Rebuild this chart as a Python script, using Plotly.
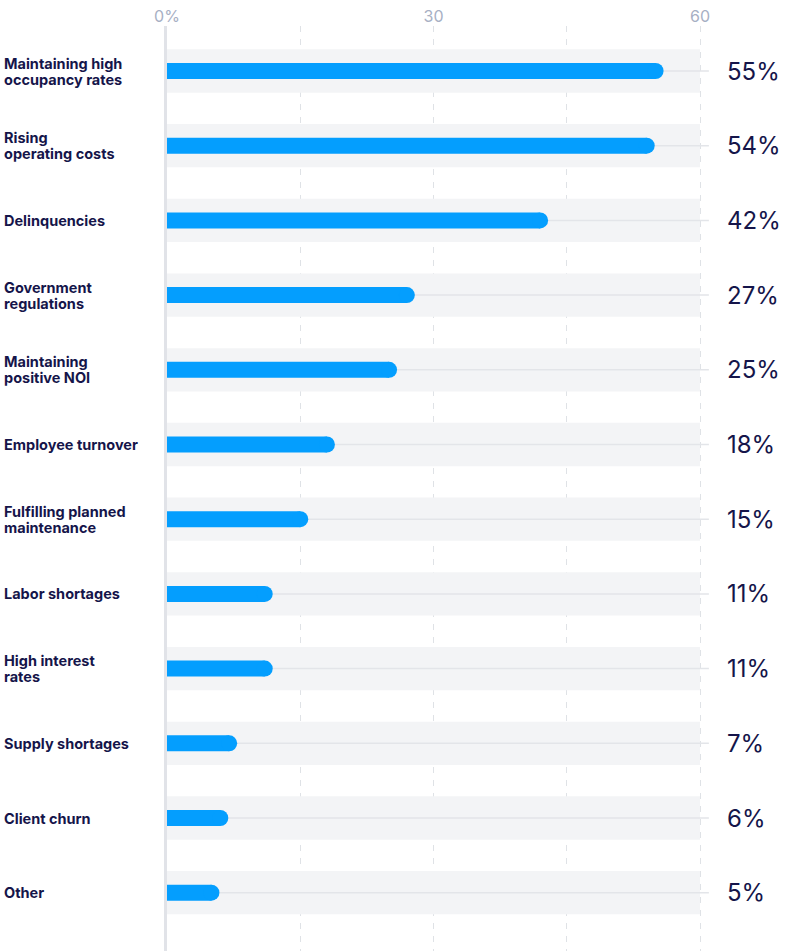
import plotly.graph_objects as go

# Survey results: share of respondents naming each challenge
categories = [
    ["Maintaining high", "occupancy rates"],
    ["Rising", "operating costs"],
    ["Delinquencies"],
    ["Government", "regulations"],
    ["Maintaining", "positive NOI"],
    ["Employee turnover"],
    ["Fulfilling planned", "maintenance"],
    ["Labor shortages"],
    ["High interest", "rates"],
    ["Supply shortages"],
    ["Client churn"],
    ["Other"],
]
values = [55, 54, 42, 27, 25, 18, 15, 11, 11, 7, 6, 5]
tick_vals = [0, 15, 30, 45, 60]
tick_text = ["0%", "", "30", "", "60"]

W, H = 785, 951
BAR_BLUE = "#049efe"
NAVY = "#15154a"
BAND = "#f3f4f6"
RULE = "#e3e5e9"

x_max_band = 60          # grey bands run to the last gridline
x_max_axis = 61          # a little extra room for the leader lines
x0_px, x60_px = 167, 700
px_per_unit = (x60_px - x0_px) / 60
x_end_px = x0_px + x_max_axis * px_per_unit

rows = list(range(len(categories)))
row0_px, row_step = 71, 74.7
top_margin = 26
y_top = (top_margin - row0_px) / row_step
y_bottom = (H - row0_px) / row_step
line_pitch = 16 / row_step   # label line spacing in row units

fig = go.Figure()

# Value bars (flat start at zero)
fig.add_trace(go.Bar(
    x=values, y=rows, orientation="h",
    width=16 / row_step,
    marker=dict(color=BAR_BLUE, line=dict(width=0)),
    hoverinfo="skip",
))
# Rounded cap at the end of each bar
fig.add_trace(go.Scatter(
    x=values, y=rows, mode="markers",
    marker=dict(size=16, color=BAR_BLUE, line=dict(width=0)),
    hoverinfo="skip",
))

shapes = []
for r in rows:
    shapes.append(dict(
        type="rect", xref="x", yref="y", layer="between",
        x0=0, x1=x_max_band, y0=r - 0.29, y1=r + 0.29,
        fillcolor=BAND, line=dict(width=0),
    ))
for r in rows:
    shapes.append(dict(
        type="line", xref="x", yref="y", layer="between",
        x0=0, x1=x_max_axis, y0=r, y1=r,
        line=dict(color=RULE, width=1.5),
    ))

annotations = []
for r, (lines, v) in enumerate(zip(categories, values)):
    n = len(lines)
    for k, txt in enumerate(lines):
        offset = (k - (n - 1) / 2) * line_pitch
        annotations.append(dict(
            xref="paper", yref="y", x=2 / W, y=r + offset,
            xanchor="left", yanchor="middle", align="left",
            text=f"<b>{txt}</b>", showarrow=False,
            font=dict(family="Inter", size=14.5, color=NAVY),
        ))
    annotations.append(dict(
        xref="paper", yref="y", x=725 / W, y=r,
        xanchor="left", yanchor="middle", align="left",
        text=f"{v}%", showarrow=False,
        font=dict(family="Inter", size=24, color=NAVY),
    ))

fig.update_layout(
    width=W, height=H,
    margin=dict(l=0, r=0, t=top_margin, b=0, pad=0),
    paper_bgcolor="white", plot_bgcolor="white",
    showlegend=False, barmode="overlay",
    shapes=shapes, annotations=annotations,
    xaxis=dict(
        domain=[x0_px / W, x_end_px / W],
        range=[0, x_max_axis], side="top", automargin=False,
        tickvals=tick_vals, ticktext=tick_text,
        tickfont=dict(family="Inter", size=16, color="#a7b0c4"),
        ticks="", showgrid=True, gridcolor="#dfe2e6", gridwidth=1,
        griddash="6px,7px", zeroline=False, showline=False,
        fixedrange=True,
    ),
    yaxis=dict(
        range=[y_bottom, y_top], automargin=False,
        showticklabels=False, ticks="", showgrid=False, zeroline=False,
        showline=True, linecolor="#e1e3e8", linewidth=3,
        fixedrange=True,
    ),
)

fig.write_html("out.html")
